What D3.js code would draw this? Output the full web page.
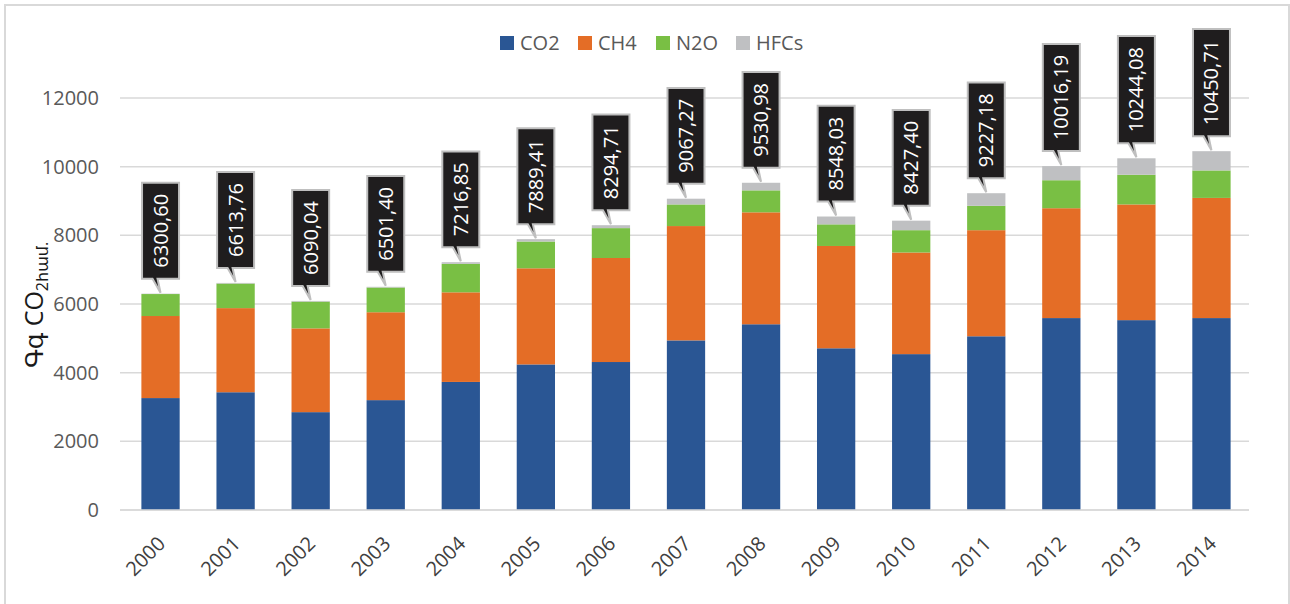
<!DOCTYPE html>
<html>
<head>
<meta charset="utf-8">
<script src="https://cdn.jsdelivr.net/npm/d3@7"></script>
<style>
  body { margin: 0; background: #fff; }
  svg text { font-family: "Open Sans", "DejaVu Sans", sans-serif; }
</style>
</head>
<body>
<div id="chart-div"></div>
<script>
// data
const years = ["2000", "2001", "2002", "2003", "2004", "2005", "2006", "2007",
               "2008", "2009", "2010", "2011", "2012", "2013", "2014"];
const co2  = [3260, 3430, 2850, 3200, 3730, 4240, 4310, 4940, 5410, 4710, 4540, 5060, 5590, 5530, 5590];
const ch4  = [2390, 2450, 2440, 2560, 2610, 2800, 3030, 3330, 3260, 2980, 2960, 3090, 3200, 3370, 3500];
const n2o  = [640, 715, 780, 720, 830, 780, 870, 630, 640, 630, 650, 710, 815, 865, 800];
const hfcs = [11, 19, 20, 21, 47, 69, 85, 167, 221, 228, 277, 367, 411, 479, 561];
const totalLabels = ["6300,60", "6613,76", "6090,04", "6501,40", "7216,85", "7889,41", "8294,71",
                     "9067,27", "9530,98", "8548,03", "8427,40", "9227,18", "10016,19", "10244,08", "10450,71"];
const seriesNames = ["CO2", "CH4", "N2O", "HFCs"];
const yTicks = [0, 2000, 4000, 6000, 8000, 10000, 12000];

const colors = { CO2: "#2a5694", CH4: "#e46d26", N2O: "#79bf44", HFCs: "#bfc0c2" };

const width = 1290, height = 604;
const margin = { top: 98, right: 41, bottom: 94, left: 123 };

const svg = d3.select("#chart-div")
    .append("svg")
    .attr("width", width)
    .attr("height", height);

// chart frame
svg.append("path")
    .attr("d", "M5,610 L5,5 L1289,5 L1289,610")
    .attr("fill", "none")
    .attr("stroke", "#d9d9d9")
    .attr("stroke-width", 2);

const table = years.map((y, i) => ({ year: y, CO2: co2[i], CH4: ch4[i], N2O: n2o[i], HFCs: hfcs[i] }));
const stacked = d3.stack().keys(seriesNames)(table);

const x = d3.scaleBand()
    .domain(years)
    .range([margin.left, width - margin.right])
    .paddingInner(0.49)
    .paddingOuter(0.245);

const y = d3.scaleLinear()
    .domain([0, 12000])
    .range([height - margin.bottom, margin.top]);

// gridlines
svg.append("g")
    .selectAll("line")
    .data(yTicks)
    .join("line")
    .attr("x1", margin.left - 3)
    .attr("x2", width - margin.right)
    .attr("y1", d => y(d))
    .attr("y2", d => y(d))
    .attr("stroke", "#d9d9d9")
    .attr("stroke-width", 1.5);

// y axis labels
const yAxis = svg.append("g")
    .attr("transform", "translate(" + (margin.left - 21) + ",0)")
    .call(d3.axisLeft(y).tickValues(yTicks).tickSize(0).tickFormat(d3.format("d")));
yAxis.select(".domain").remove();
yAxis.selectAll("text")
    .attr("fill", "#595959")
    .style("font-size", "20px")
    .style("font-family", "'Open Sans', sans-serif");

// y axis title (Armenian: Gg CO2 eq.)
const yTitle = svg.append("text")
    .attr("transform", "translate(43,305) rotate(-90)")
    .attr("text-anchor", "middle")
    .attr("fill", "#1a1a1a")
    .style("font-size", "25px");
yTitle.append("tspan").text("Գգ CO");
yTitle.append("tspan").attr("dy", 5).style("font-size", "16px").text("2համ.");

// bars
svg.append("g")
    .selectAll("g")
    .data(stacked)
    .join("g")
    .attr("fill", d => colors[d.key])
    .selectAll("rect")
    .data(d => d)
    .join("rect")
    .attr("x", d => x(d.data.year))
    .attr("y", d => y(d[1]))
    .attr("width", x.bandwidth())
    .attr("height", d => y(d[0]) - y(d[1]));

// baseline
svg.append("line")
    .attr("x1", margin.left - 3)
    .attr("x2", width - margin.right)
    .attr("y1", y(0))
    .attr("y2", y(0))
    .attr("stroke", "#d9d9d9")
    .attr("stroke-width", 1.5);

// x axis labels
svg.append("g")
    .selectAll("text")
    .data(years)
    .join("text")
    .attr("transform", d => "translate(" + (x(d) + x.bandwidth() / 2 + 6) + "," + (y(0) + 35) + ") rotate(-45)")
    .attr("text-anchor", "end")
    .attr("fill", "#404040")
    .style("font-size", "20px")
    .text(d => d);

// total callouts
const topLayer = stacked[stacked.length - 1];
const callouts = svg.append("g")
    .selectAll("g")
    .data(topLayer)
    .join("g")
    .attr("transform", (d, i) => "translate(" + (x(years[i]) + x.bandwidth() / 2) + "," + y(d[1]) + ")");

callouts.each(function (d, i) {
    const g = d3.select(this);
    const path = g.append("path");
    const label = g.append("text")
        .attr("fill", "#fff")
        .attr("text-anchor", "middle")
        .style("font-size", "20px")
        .text(totalLabels[i]);
    const len = label.node().getComputedTextLength();
    const boxW = 37, boxH = len + 22, gap = 15;
    const bottom = -gap, topY = bottom - boxH;
    label.attr("transform", "translate(7," + (topY + boxH / 2) + ") rotate(-90)");
    path.attr("d",
        "M" + (-boxW / 2) + "," + topY +
        " L" + (boxW / 2) + "," + topY +
        " L" + (boxW / 2) + "," + bottom +
        " L" + (-3) + "," + bottom +
        " L0,-1" +
        " L" + (-8) + "," + bottom +
        " L" + (-boxW / 2) + "," + bottom + " Z")
        .attr("fill", "#1f1d1e")
        .attr("stroke", "#bfbfbf")
        .attr("stroke-width", 2);
});

// legend
const legendX = [500, 578, 656, 736];
const legend = svg.append("g")
    .selectAll("g")
    .data(seriesNames)
    .join("g")
    .attr("transform", (d, i) => "translate(" + legendX[i] + ",36)");
legend.append("rect")
    .attr("width", 14)
    .attr("height", 14)
    .attr("fill", d => colors[d]);
legend.append("text")
    .attr("x", 20)
    .attr("y", 14)
    .attr("fill", "#595959")
    .style("font-size", "20px")
    .text(d => d);
</script>
</body>
</html>
